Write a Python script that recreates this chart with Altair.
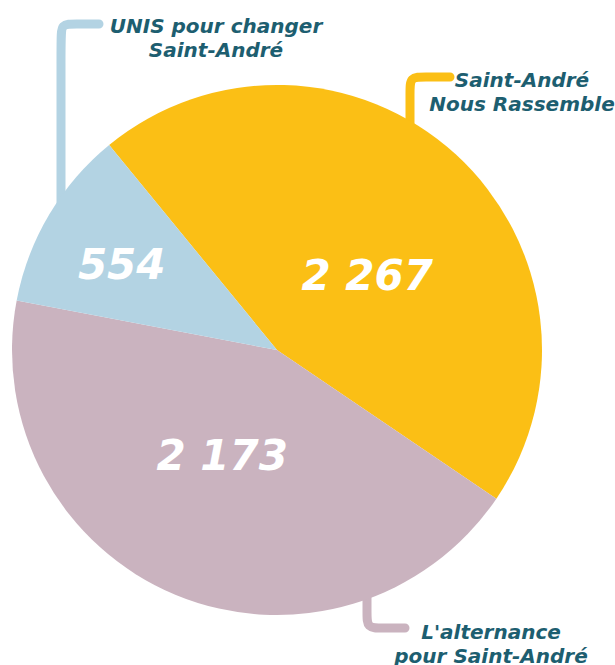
import math
import altair as alt
import pandas as pd

# ---------------- data ----------------
lists = ["Saint-André Nous Rassemble", "L'alternance pour Saint-André", "UNIS pour changer Saint-André"]
votes = [2267, 2173, 554]
vote_labels = ["2 267", "2 173", "554"]
legend_lines = [
    ["Saint-André", "Nous Rassemble"],
    ["L'alternance", "pour Saint-André"],
    ["UNIS pour changer", "Saint-André"],
]
colors = ["#FBBF15", "#CAB3BF", "#B3D3E3"]

# ---------------- layout ----------------
W, H = 615, 665
CX, CY, R = 277, 350, 265
START = math.radians(-39.3) + 2 * math.pi
TEXT_COLOR = "#1D5E70"
FONT = "DejaVu Sans"

# value label placement (radius from centre, fine offsets)
value_pos = {
    lists[0]: dict(r=116, dx=12, dy=13),
    lists[1]: dict(r=120, dx=-9, dy=-4),
    lists[2]: dict(r=176, dx=-4, dy=6),
}
# leader lines: (bottom/pie end, corner, tip) in pixels
leaders = {
    lists[0]: [(410, 130), (410, 77), (450, 77)],
    lists[1]: [(367, 588), (367, 628), (405, 628)],
    lists[2]: [(61, 205), (61, 24), (99, 24)],
}
legend_pos = {
    lists[0]: (522, 87),
    lists[1]: (491, 639),
    lists[2]: (216, 33),
}

df = pd.DataFrame({
    "list": lists,
    "votes": votes,
    "label": vote_labels,
    "order": list(range(len(lists))),
})

color_scale = alt.Scale(domain=lists, range=colors)
theta_scale = alt.Scale(range=[START, START + 2 * math.pi])

px = alt.Scale(domain=[0, W], range=[0, W])
py = alt.Scale(domain=[0, H], range=[0, H])

# leader lines with a rounded corner (basis curve through a few control points)
rows = []
for name, (a, c, b) in leaders.items():
    k = 14
    def toward(p, q, d):
        L = math.hypot(q[0] - p[0], q[1] - p[1])
        return (p[0] + (q[0] - p[0]) * d / L, p[1] + (q[1] - p[1]) * d / L)
    p1 = toward(c, a, k)
    p2 = toward(c, b, k)
    for i, (x, y) in enumerate([a, p1, c, p2, b]):
        rows.append({"list": name, "x": x, "y": y, "i": i})
lines_df = pd.DataFrame(rows)

lines = alt.Chart(lines_df).mark_line(
    strokeWidth=9, strokeCap="round", strokeJoin="round", interpolate="basis"
).encode(
    x=alt.X("x:Q", scale=px, axis=None),
    y=alt.Y("y:Q", scale=py, axis=None),
    detail="list:N",
    order="i:Q",
    color=alt.Color("list:N", scale=color_scale, legend=None),
)

pie = alt.Chart(df).mark_arc(outerRadius=R, stroke=None).encode(
    theta=alt.Theta("votes:Q", stack=True, scale=theta_scale),
    order=alt.Order("order:Q"),
    color=alt.Color("list:N", scale=color_scale, legend=None),
    x=alt.value(CX),
    y=alt.value(CY),
)

value_layers = []
for name in lists:
    p = value_pos[name]
    value_layers.append(
        alt.Chart(df).mark_text(
            radius=p["r"], dx=p["dx"], dy=p["dy"], font=FONT, fontSize=42,
            fontWeight="bold", fontStyle="italic", color="white",
            align="center", baseline="middle",
        ).encode(
            theta=alt.Theta("votes:Q", stack=True, scale=theta_scale),
            order=alt.Order("order:Q"),
            text="label:N",
            x=alt.value(CX),
            y=alt.value(CY),
            opacity=alt.condition(alt.datum.list == name, alt.value(1), alt.value(0)),
        )
    )

legend_df = pd.DataFrame({
    "list": lists,
    "text": ["\n".join(l) for l in legend_lines],
    "x": [legend_pos[n][0] for n in lists],
    "y": [legend_pos[n][1] for n in lists],
})
legend_text = alt.Chart(legend_df).mark_text(
    font=FONT, fontSize=20, fontWeight="bold", fontStyle="italic",
    color=TEXT_COLOR, align="center", baseline="alphabetic",
    lineBreak="\n", lineHeight=24,
).encode(
    x=alt.X("x:Q", scale=px, axis=None),
    y=alt.Y("y:Q", scale=py, axis=None),
    text="text:N",
)

chart = alt.layer(lines, pie, *value_layers, legend_text).properties(
    width=W, height=H, padding=0, autosize=alt.AutoSizeParams(type="none"),
    background="white",
).configure_view(stroke=None).resolve_scale(color="shared", theta="shared")

chart.save("out.html", embed_options={"renderer": "svg", "actions": False})
